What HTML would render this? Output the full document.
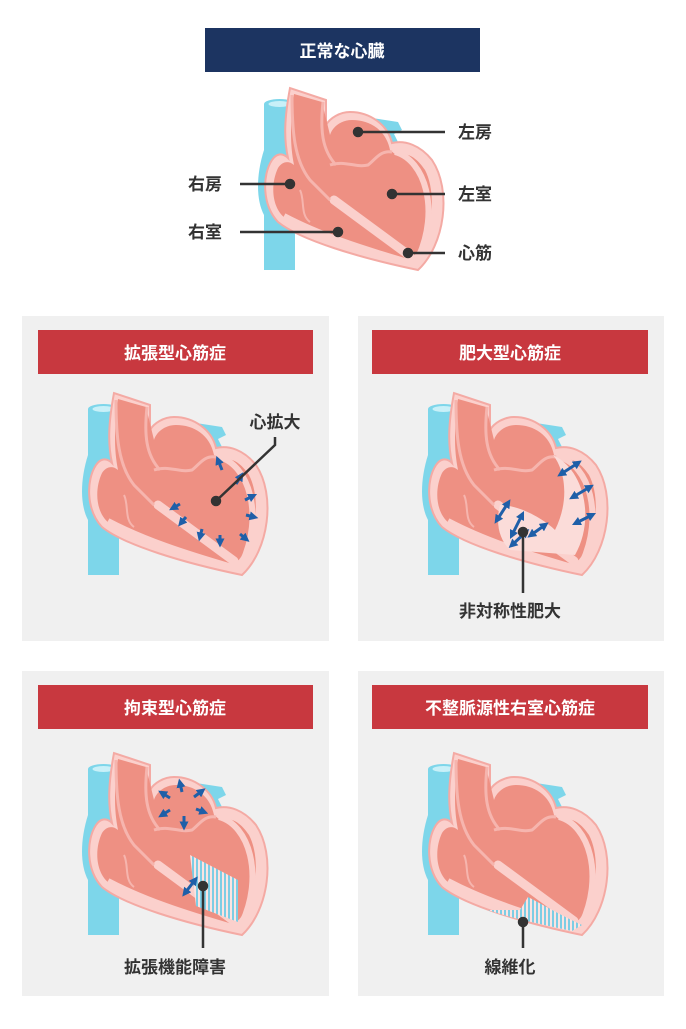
<!DOCTYPE html>
<html><head><meta charset="utf-8"><style>
body{margin:0;width:686px;height:1024px;background:#fff;font-family:"Liberation Sans","Noto Sans CJK JP",sans-serif;overflow:hidden}
</style></head><body>
<svg width="686" height="1024" viewBox="0 0 686 1024" xmlns="http://www.w3.org/2000/svg" font-family="'Liberation Sans','Noto Sans CJK JP',sans-serif">
<defs>
<marker id="ah" viewBox="0 0 10 10" refX="5" refY="5" markerWidth="3" markerHeight="3" orient="auto-start-reverse"><path d="M0,0L10,5L0,10z" fill="#1f5fa8"/></marker>
<pattern id="hatch" width="4" height="4" patternUnits="userSpaceOnUse"><rect width="4" height="4" fill="#fbe3e1"/><rect width="2" height="4" fill="#7dcde4"/></pattern>
<g id="heart">
<rect x="264" y="104" width="31" height="166" fill="#7dd6ea"/>
<path d="M264,150 C256,175 256,200 264,215 Z" fill="#7dd6ea"/>
<ellipse cx="279.5" cy="104" rx="15.5" ry="5" fill="#7dd6ea"/>
<ellipse cx="279.5" cy="104" rx="11" ry="3" fill="#c8f0f8"/>
<path d="M372,118 L398,122 L402,130 L394,134 L398,142 L380,146 Z" fill="#7dd6ea"/>
<path d="M272,160 C262,175 262,205 278,222 C300,240 360,258 418,270 C445,245 452,190 432,160 C420,145 405,140 392,143 C388,125 370,112 350,112 C340,112 330,118 326,125 L326,100 L290,88 C284,120 284,140 288,158 C282,152 276,154 272,160 Z" fill="#fbd0cc" stroke="#f4aaa4" stroke-width="2"/>
<path d="M278,168 C270,185 272,208 285,218 C310,235 360,250 410,260 C432,240 438,195 425,170 C415,155 405,152 396,155 L390,150 C386,130 370,120 352,120 C340,120 332,128 330,135 L322,102 L294,94 C290,125 290,145 294,165 C288,160 282,162 278,168 Z" fill="#ee9083"/>
<path d="M395,152 C425,160 440,210 418,258" fill="none" stroke="#fbd0cc" stroke-width="6"/>
<path d="M284,216 C320,235 360,248 408,262" fill="none" stroke="#fbd0cc" stroke-width="6"/>
<path d="M334,200 L410,256" fill="none" stroke="#fbd0cc" stroke-width="9" stroke-linecap="round"/>
<path d="M292,95 C292,130 294,160 310,180 L330,200" fill="none" stroke="#f6b5ae" stroke-width="3"/>
<path d="M323,102 C320,130 322,150 336,165" fill="none" stroke="#f6b5ae" stroke-width="3"/>
<path d="M330,165 C345,160 355,168 368,165 C375,160 380,150 392,152" fill="none" stroke="#f6b5ae" stroke-width="3"/>
<path d="M300,190 C305,200 300,215 310,222" fill="none" stroke="#f6b5ae" stroke-width="2"/>
</g>
</defs>

<rect x="205" y="28" width="275" height="44" fill="#1c3461"/>
<text x="342" y="57" font-size="17" font-weight="bold" fill="#fff" text-anchor="middle">正常な心臓</text>
<use href="#heart"/>
<g stroke="#333" stroke-width="2.5" fill="#333">
<line x1="358" y1="132" x2="445" y2="132"/><circle cx="358" cy="132" r="4"/>
<line x1="240" y1="184" x2="290" y2="184"/><circle cx="290" cy="184" r="4"/>
<line x1="392" y1="194" x2="445" y2="194"/><circle cx="392" cy="194" r="4"/>
<line x1="240" y1="232" x2="338" y2="232"/><circle cx="338" cy="232" r="4"/>
<line x1="408" y1="253" x2="445" y2="253"/><circle cx="408" cy="253" r="4"/>
</g>
<g font-size="17" font-weight="bold" fill="#333">
<text x="458" y="138">左房</text><text x="188" y="190">右房</text>
<text x="458" y="200">左室</text><text x="188" y="238">右室</text>
<text x="458" y="259">心筋</text></g>

<rect x="22" y="316" width="307" height="325" fill="#f0f0f0"/>
<rect x="358" y="316" width="306" height="325" fill="#f0f0f0"/>
<rect x="22" y="671" width="307" height="325" fill="#f0f0f0"/>
<rect x="358" y="671" width="306" height="325" fill="#f0f0f0"/>
<g fill="#c8383f"><rect x="38" y="330" width="275" height="44"/><rect x="372" y="330" width="276" height="44"/><rect x="38" y="685" width="275" height="44"/><rect x="372" y="685" width="276" height="44"/></g>
<g font-size="17" font-weight="bold" fill="#fff" text-anchor="middle">
<text x="175" y="359">拡張型心筋症</text><text x="510" y="359">肥大型心筋症</text>
<text x="175" y="714">拘束型心筋症</text><text x="510" y="714">不整脈源性右室心筋症</text></g>

<use href="#heart" transform="translate(-176,305)"/>
<use href="#heart" transform="translate(164,305)"/>
<use href="#heart" transform="translate(-176,665)"/>
<use href="#heart" transform="translate(164,665)"/>

<!-- dilated arrows -->
<g stroke="#1f5fa8" stroke-width="3" marker-end="url(#ah)">
<line x1="222" y1="470" x2="218" y2="460"/><line x1="236" y1="484" x2="241" y2="476"/>
<line x1="245" y1="500" x2="253" y2="496"/><line x1="246" y1="515" x2="254" y2="517"/>
<line x1="240" y1="534" x2="246" y2="539"/><line x1="220" y1="535" x2="220" y2="543"/>
<line x1="202" y1="529" x2="200" y2="537"/><line x1="186" y1="517" x2="181" y2="523"/>
<line x1="180" y1="504" x2="173" y2="508"/></g>
<g stroke="#333" stroke-width="2.5" fill="#333"><path d="M216,501 L275,445 L275,437" fill="none"/><circle cx="216" cy="501" r="4"/></g>
<text x="275" y="428" font-size="17" font-weight="bold" fill="#333" text-anchor="middle">心拡大</text>

<!-- hypertrophic -->
<path d="M553,455 C585,470 595,520 575,555 L510,550 C500,540 495,525 500,505 C520,505 545,520 555,530 C570,500 565,470 553,455 Z" fill="#fbdcd9"/>
<g stroke="#1f5fa8" stroke-width="3" marker-end="url(#ah)" marker-start="url(#ah)">
<line x1="561" y1="474" x2="578" y2="463"/><line x1="573" y1="497" x2="590" y2="487"/>
<line x1="576" y1="523" x2="592" y2="515"/>
<line x1="497" y1="520" x2="508" y2="503"/><line x1="512" y1="535" x2="522" y2="515"/>
<line x1="531" y1="535" x2="545" y2="525"/><line x1="512" y1="545" x2="526" y2="532"/>
</g>
<g stroke="#333" stroke-width="2.5" fill="#333"><line x1="523" y1="532" x2="523" y2="593"/><circle cx="523" cy="532" r="4"/></g>
<text x="510" y="617" font-size="17" font-weight="bold" fill="#333" text-anchor="middle">非対称性肥大</text>

<!-- restrictive -->
<path d="M190,855 L238,880 L238,922 L196,906 Z" fill="url(#hatch)"/>
<g stroke="#1f5fa8" stroke-width="3" marker-end="url(#ah)">
<line x1="182" y1="792" x2="180" y2="783"/><line x1="194" y1="797" x2="202" y2="791"/>
<line x1="196" y1="809" x2="204" y2="812"/><line x1="184" y1="816" x2="184" y2="826"/>
<line x1="170" y1="810" x2="162" y2="815"/><line x1="170" y1="798" x2="162" y2="793"/></g>
<line x1="185" y1="893" x2="195" y2="880" stroke="#1f5fa8" stroke-width="3" marker-end="url(#ah)" marker-start="url(#ah)"/>
<g stroke="#333" stroke-width="2.5" fill="#333"><line x1="203" y1="886" x2="203" y2="948"/><circle cx="203" cy="886" r="4"/></g>
<text x="175" y="973" font-size="17" font-weight="bold" fill="#333" text-anchor="middle">拡張機能障害</text>

<!-- ARVC -->
<path d="M488,910 C510,918 545,925 572,931 L582,925 C560,915 540,903 528,897 L520,910 Z" fill="url(#hatch)"/>
<g stroke="#333" stroke-width="2.5" fill="#333"><line x1="523" y1="922" x2="523" y2="948"/><circle cx="523" cy="922" r="4"/></g>
<text x="510" y="973" font-size="17" font-weight="bold" fill="#333" text-anchor="middle">線維化</text>
</svg>
</body></html>
